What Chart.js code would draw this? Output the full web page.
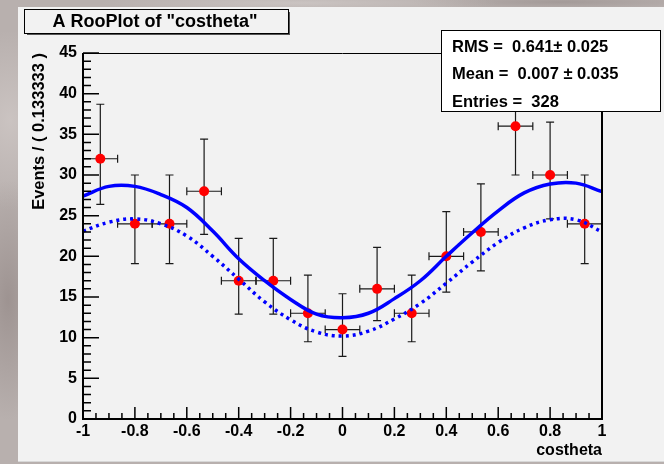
<!DOCTYPE html>
<html>
<head>
<meta charset="utf-8">
<script src="https://cdn.jsdelivr.net/npm/chart.js@4"></script>
<style>
  html, body { margin: 0; padding: 0; }
  body {
    width: 664px; height: 464px; overflow: hidden;
    background-color: #b8b0ae;
    background-image:
      radial-gradient(ellipse 40px 120px at 8px 300px, rgba(140,128,126,0.6), transparent),
      radial-gradient(ellipse 60px 90px at 10px 120px, rgba(215,208,206,0.6), transparent),
      radial-gradient(ellipse 200px 10px at 300px 3px, rgba(210,204,202,0.7), transparent),
      radial-gradient(ellipse 150px 8px at 560px 2px, rgba(150,140,138,0.6), transparent);
  }
  canvas { position: absolute; left: 0; top: 0; }
</style>
</head>
<body>
<canvas id="myChart" width="664" height="464"></canvas>
<script>
// binned data (15 bins of 0.133333)
const binCenters = [-0.9333, -0.8, -0.6667, -0.5333, -0.4, -0.2667, -0.1333, 0, 0.1333, 0.2667, 0.4, 0.5333, 0.6667, 0.8, 0.9333];
const counts  = [32, 24, 24, 28, 17, 17, 13, 11, 16, 13, 20, 23, 36, 30, 24];
const errLow  = [26.4, 19.1, 19.1, 22.7, 12.9, 12.9, 9.5, 7.7, 12.1, 9.5, 15.6, 18.2, 30.0, 24.6, 19.1];
const errHigh = [38.7, 30.0, 30.0, 34.4, 22.2, 22.2, 17.7, 15.4, 21.1, 17.7, 25.5, 28.9, 43.0, 36.5, 30.0];
const binHalfWidth = 0.0667;

// fitted curves
const curveX = [-1, -0.9, -0.8, -0.7, -0.6, -0.5, -0.4, -0.3, -0.2, -0.1, 0, 0.1, 0.2, 0.3, 0.4, 0.5, 0.6, 0.7, 0.8, 0.9, 1];
const fitTotal = [27.4, 28.6, 28.6, 27.6, 26.0, 23.1, 19.7, 17.0, 14.7, 12.9, 12.45, 13.0, 14.8, 17.0, 20.0, 22.9, 25.6, 27.8, 28.9, 29.0, 27.95];
const fitPart  = [23.1, 24.2, 24.6, 24.0, 22.5, 20.0, 17.2, 14.4, 12.2, 10.7, 10.2, 10.8, 12.3, 14.2, 16.7, 19.3, 21.7, 23.5, 24.5, 24.5, 23.0];

const plotTitle = 'A RooPlot of "costheta"';
const statLines = ['RMS =  0.641\u00b1 0.025', 'Mean =  0.007 \u00b1 0.035', 'Entries =  328'];

const FONT = '"Liberation Sans", Arial, Helvetica, sans-serif';

const padPlugin = {
  id: 'pad',
  beforeDraw(chart) {
    const c = chart.ctx;
    c.save();
    c.fillStyle = '#f2f2f2';
    c.fillRect(18, 7, 646, 455);
    c.fillStyle = '#d8d8d8';
    c.fillRect(18, 461, 646, 1);
    c.restore();
  }
};

const errorBars = {
  id: 'errorBars',
  beforeDatasetsDraw(chart) {
    const c = chart.ctx, xs = chart.scales.x, ys = chart.scales.y;
    const a = chart.chartArea;
    c.save();
    c.beginPath();
    c.rect(a.left, a.top, a.right - a.left, a.bottom - a.top);
    c.clip();
    c.strokeStyle = '#1a1a1a';
    c.lineWidth = 1.2;
    for (let i = 0; i < counts.length; i++) {
      const px = xs.getPixelForValue(binCenters[i]);
      const py = ys.getPixelForValue(counts[i]);
      const x0 = xs.getPixelForValue(binCenters[i] - binHalfWidth);
      const x1 = xs.getPixelForValue(binCenters[i] + binHalfWidth);
      const y0 = ys.getPixelForValue(errLow[i]);
      const y1 = ys.getPixelForValue(errHigh[i]);
      c.beginPath();
      c.moveTo(px, y0); c.lineTo(px, y1);
      c.moveTo(px - 4, y0); c.lineTo(px + 4, y0);
      c.moveTo(px - 4, y1); c.lineTo(px + 4, y1);
      c.moveTo(x0, py); c.lineTo(x1, py);
      c.moveTo(x0, py - 4); c.lineTo(x0, py + 4);
      c.moveTo(x1, py - 4); c.lineTo(x1, py + 4);
      c.stroke();
    }
    c.restore();
  }
};

const frameAndBoxes = {
  id: 'frameAndBoxes',
  afterDraw(chart) {
    const c = chart.ctx, xs = chart.scales.x, ys = chart.scales.y;
    const a = chart.chartArea;
    c.save();
    c.strokeStyle = '#000';
    // frame
    c.lineWidth = 1;
    c.beginPath();
    c.moveTo(a.left, a.top + 0.5); c.lineTo(a.right, a.top + 0.5);
    c.stroke();
    c.lineWidth = 2;
    c.beginPath();
    c.moveTo(a.right, a.top); c.lineTo(a.right, a.bottom);
    c.moveTo(a.left, a.top); c.lineTo(a.left, a.bottom + 1);
    c.moveTo(a.left - 1, a.bottom); c.lineTo(a.right + 1, a.bottom);
    c.stroke();
    // inner ticks
    c.lineWidth = 1.5;
    c.beginPath();
    for (let k = 0; k <= 45; k++) {
      const y = ys.getPixelForValue(k);
      const len = k % 5 === 0 ? 16 : 8;
      c.moveTo(a.left, y); c.lineTo(a.left + len, y);
    }
    for (let k = -20; k <= 20; k++) {
      const x = xs.getPixelForValue(k * 0.05);
      const len = k % 4 === 0 ? 12 : 6;
      c.moveTo(x, a.bottom); c.lineTo(x, a.bottom - len);
    }
    c.stroke();

    // title box
    c.fillStyle = '#555';
    c.fillRect(27, 12, 263, 23);
    c.fillStyle = '#f2f2f2';
    c.fillRect(24, 9, 264, 24);
    c.lineWidth = 1;
    c.strokeStyle = '#000';
    c.strokeRect(24.5, 9.5, 264, 24);
    c.fillStyle = '#000';
    c.font = 'bold 18px ' + FONT;
    c.textAlign = 'center';
    c.textBaseline = 'middle';
    c.fillText(plotTitle, 155, 22);

    // stats box
    c.fillStyle = '#fff';
    c.fillRect(441, 30, 220, 82);
    c.strokeRect(441.5, 30.5, 219, 81);
    c.fillStyle = '#000';
    c.font = 'bold 16.5px ' + FONT;
    c.textAlign = 'left';
    const ly = [47, 74, 102];
    statLines.forEach((t, i) => c.fillText(t, 452, ly[i]));
    c.restore();
  }
};

const axisFont = { family: FONT, size: 16, weight: 'bold' };

const config = {
  type: 'scatter',
  data: {
    datasets: [
      {
        label: 'total',
        type: 'line',
        data: curveX.map((x, i) => ({ x: x, y: fitTotal[i] })),
        borderColor: '#0000ff',
        borderWidth: 3.5,
        pointRadius: 0,
        tension: 0.4,
        fill: false,
        order: 0
      },
      {
        label: 'component',
        type: 'line',
        data: curveX.map((x, i) => ({ x: x, y: fitPart[i] })),
        borderColor: '#0000ff',
        borderWidth: 3.5,
        borderDash: [3, 4],
        pointRadius: 0,
        tension: 0.4,
        fill: false,
        order: 0
      },
      {
        label: 'data',
        data: binCenters.map((x, i) => ({ x: x, y: counts[i] })),
        backgroundColor: '#ff0000',
        borderWidth: 0,
        pointRadius: 5,
        order: 1
      }
    ]
  },
  options: {
    responsive: false,
    animation: false,
    layout: { padding: { top: 53, right: 62, left: 0, bottom: 0 } },
    plugins: {
      legend: { display: false },
      tooltip: { enabled: false },
      title: { display: false }
    },
    scales: {
      x: {
        type: 'linear', min: -1, max: 1,
        grid: { display: false, drawTicks: false },
        border: { display: false },
        ticks: {
          stepSize: 0.2, autoSkip: false, maxRotation: 0, padding: 3,
          color: '#000', font: axisFont,
          callback: v => String(+v.toFixed(1))
        },
        title: {
          display: true, text: 'costheta', align: 'end', color: '#000',
          font: axisFont, padding: { top: 0, bottom: 4 }
        },
        afterFit: s => { s.height = 45; }
      },
      y: {
        min: 0, max: 45,
        grid: { display: false, drawTicks: false },
        border: { display: false },
        ticks: { stepSize: 5, padding: 6, color: '#000', font: axisFont },
        title: {
          display: true, text: 'Events / ( 0.133333 )', align: 'end', color: '#000',
          font: { family: FONT, size: 16.5, weight: 'bold' }, padding: { top: 30, bottom: 0 }
        },
        afterFit: s => { s.width = 83; }
      }
    }
  },
  plugins: [padPlugin, errorBars, frameAndBoxes]
};

var ctx = document.getElementById('myChart').getContext('2d');
var chart = new Chart(ctx, config);
</script>
</body>
</html>
